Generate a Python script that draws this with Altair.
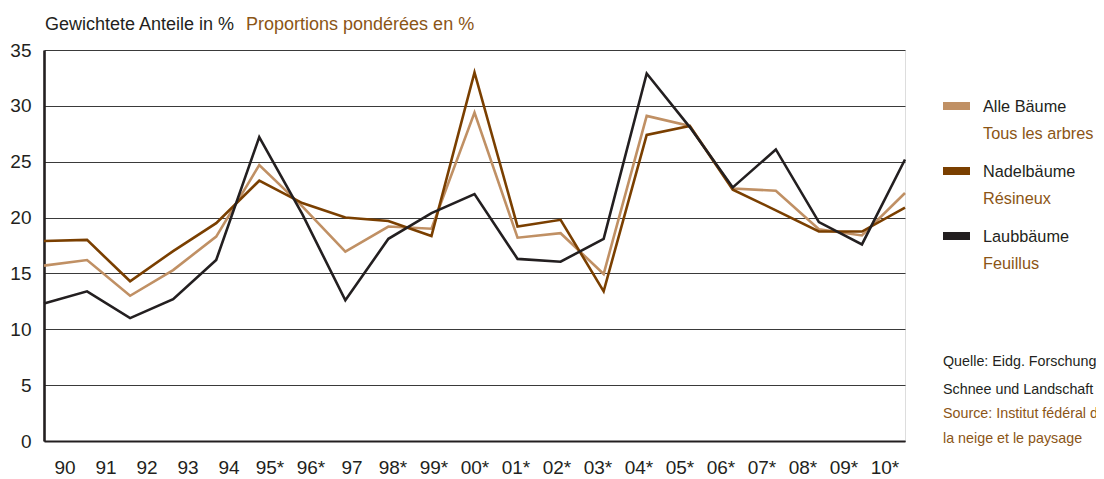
import altair as alt
import pandas as pd

years = ["90", "91", "92", "93", "94", "95*", "96*", "97", "98*", "99*", "00*",
         "01*", "02*", "03*", "04*", "05*", "06*", "07*", "08*", "09*", "10*"]
alle = [15.7, 16.2, 13.0, 15.3, 18.3, 24.7, 21.0, 16.95, 19.2, 19.0, 29.4,
        18.2, 18.6, 14.95, 29.1, 28.2, 22.6, 22.4, 18.95, 18.4, 22.2]
nadel = [17.9, 18.0, 14.3, 17.0, 19.5, 23.3, 21.3, 20.0, 19.7, 18.35, 33.0,
         19.2, 19.8, 13.4, 27.4, 28.2, 22.5, 20.65, 18.75, 18.75, 20.9]
laub = [12.3, 13.4, 11.0, 12.7, 16.2, 27.2, 20.3, 12.6, 18.1, 20.4, 22.1,
        16.3, 16.05, 18.1, 32.9, 28.1, 22.7, 26.1, 19.6, 17.6, 25.2]

series_de = ["Alle Bäume", "Nadelbäume", "Laubbäume"]
series_fr = ["Tous les arbres", "Résineux", "Feuillus"]
series_colors = ["#C09064", "#7A3F00", "#231F20"]
series_values = [alle, nadel, laub]

title_de = "Gewichtete Anteile in %"
title_fr = "Proportions pondérées en %"
source_lines = ["Quelle: Eidg. Forschungsanstalt für Wald,",
                "Schnee und Landschaft",
                "Source: Institut fédéral de recherches sur la forêt,",
                "la neige et le paysage"]
source_colors = ["#231F20", "#231F20", "#8B5516", "#8B5516"]

FR_COLOR = "#8B5516"
TXT = "#231F20"
FONT = "Liberation Sans, Arial, sans-serif"

rows = []
for name, vals in zip(series_de, series_values):
    for i, v in enumerate(vals):
        rows.append({"i": i, "year": years[i], "series": name, "value": v})
df = pd.DataFrame(rows)

n = len(years)
tick_vals = [(k + 0.5) * (n - 1) / n for k in range(n)]
label_js = "[" + ",".join("'" + y + "'" for y in years) + "]"

W, H = 861, 391

lines = alt.Chart(df).mark_line(strokeWidth=2.6, strokeJoin="miter").encode(
    x=alt.X("i:Q", scale=alt.Scale(domain=[0, n - 1], nice=False, zero=False),
            axis=alt.Axis(values=tick_vals, labelExpr=f"{label_js}[round(datum.value*{n}/{n-1}-0.5)]",
                          title=None, grid=False, ticks=False, domainWidth=2.2,
                          domainColor=TXT, labelFontSize=19, labelFont=FONT,
                          labelColor=TXT, labelPadding=17, labelAngle=0)),
    y=alt.Y("value:Q", scale=alt.Scale(domain=[0, 35], nice=False),
            axis=alt.Axis(values=[0, 5, 10, 15, 20, 25, 30, 35], title=None, ticks=False,
                          grid=True, gridColor="#3a3a3a", gridWidth=1.1,
                          domainWidth=2.6, domainColor=TXT, labelFontSize=19,
                          labelFont=FONT, labelColor=TXT, labelPadding=13)),
    color=alt.Color("series:N", scale=alt.Scale(domain=series_de, range=series_colors), legend=None),
    order=alt.Order("i:Q"),
    detail="series:N",
)

layers = [lines]

# header texts
layers.append(alt.Chart(pd.DataFrame({"t": [title_de]})).mark_text(
    align="left", baseline="alphabetic", fontSize=18, font=FONT, color=TXT
).encode(text="t:N", x=alt.value(1), y=alt.value(-20)))
layers.append(alt.Chart(pd.DataFrame({"t": [title_fr]})).mark_text(
    align="left", baseline="alphabetic", fontSize=18, font=FONT, color=FR_COLOR
).encode(text="t:N", x=alt.value(202), y=alt.value(-20)))

# legend
for k in range(3):
    yc = 56 + 65 * k
    layers.append(alt.Chart(pd.DataFrame({"s": [series_de[k]]})).mark_rule(
        strokeWidth=8, color=series_colors[k]
    ).encode(x=alt.value(899), x2=alt.value(926), y=alt.value(yc)))
    layers.append(alt.Chart(pd.DataFrame({"t": [series_de[k]]})).mark_text(
        align="left", baseline="alphabetic", fontSize=16.3, font=FONT, color=TXT
    ).encode(text="t:N", x=alt.value(939), y=alt.value(yc + 6)))
    layers.append(alt.Chart(pd.DataFrame({"t": [series_fr[k]]})).mark_text(
        align="left", baseline="alphabetic", fontSize=16.3, font=FONT, color=FR_COLOR
    ).encode(text="t:N", x=alt.value(939), y=alt.value(yc + 33)))

# source
src_y = [316, 344, 368, 393]
for t, c, yy in zip(source_lines, source_colors, src_y):
    layers.append(alt.Chart(pd.DataFrame({"t": [t]})).mark_text(
        align="left", baseline="alphabetic", fontSize=14.3, font=FONT, color=c
    ).encode(text="t:N", x=alt.value(899), y=alt.value(yy)))

chart = alt.layer(*layers).properties(
    width=W, height=H,
    autosize=alt.AutoSizeParams(type="none"),
    padding={"left": 36, "top": 42, "right": 191, "bottom": 37},
).configure_view(stroke=None).configure(background="white")

chart.save("out.html", embed_options={"renderer": "svg", "actions": False})
